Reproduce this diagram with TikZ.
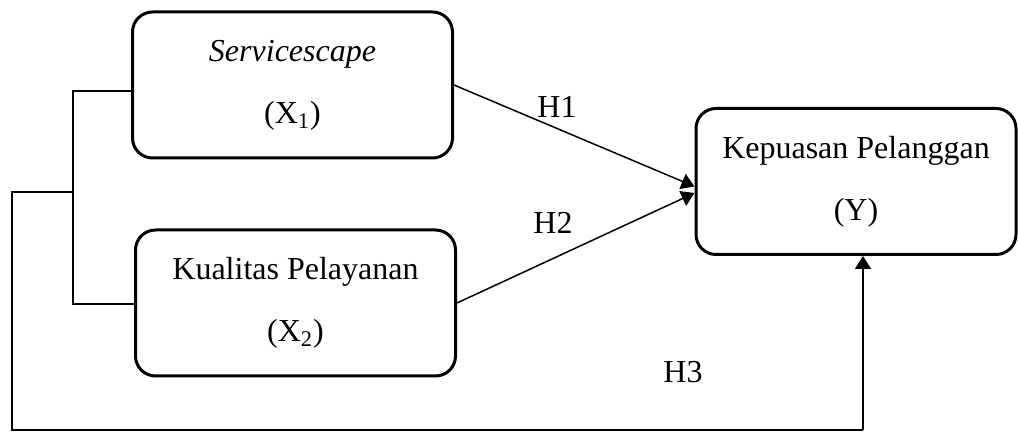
\documentclass[tikz,border=0pt]{standalone}
\usepackage{fontspec}
\setmainfont{Liberation Serif}
\usetikzlibrary{arrows.meta, positioning, calc}
\tikzset{
  varbox/.style={draw, line width=1.5pt, rounded corners=10pt,
                 minimum width=160pt, minimum height=73pt, align=center,
                 font=\fontsize{16}{31}\selectfont},
  hypo/.style={font=\fontsize{16}{19}\selectfont},
  link/.style={line width=0.75pt},
  arr/.style={link, -{Triangle[length=6.5pt, width=8pt]}}
}

\begin{document}
\begin{tikzpicture}[x=0.5pt, y=-0.5pt]
  \useasboundingbox (0,0) rectangle (1018,432);

  % Variables
  \node[varbox] (x1) at (292.5,85) {\textit{Servicescape}\\(X\textsubscript{1})};
  \node[varbox] (x2) at (295.5,303) {Kualitas Pelayanan\\(X\textsubscript{2})};
  \node[varbox] (kp) at (856,181.5) {Kepuasan Pelanggan\\(Y)};

  % Hypotheses
  \draw[arr] (x1.east) -- ($(kp.west)+(0,5)$);
  \draw[arr] (x2.east) -- ($(kp.west)+(0,11.5)$);
  \node[hypo] (h1) at (557,107) {H1};
  \node[hypo] (h2) at (553,223) {H2};
  \node[hypo] (h3) at (683,372) {H3};

  % Joint path (X1 and X2 together)
  \coordinate (jt) at (73,91);
  \coordinate (jb) at (73,304);
  \coordinate (jm) at (73,192);
  \coordinate (lt) at (12,192);
  \coordinate (lb) at (12,430);
  \coordinate (rb) at (863,430);
  \draw[link] (x1.west |- jt) -- (jt) -- (jb) -- (x2.west |- jb);
  \draw[link] (jm) -- (lt) -- (lb) -- (rb);
  \draw[arr] (rb) -- (rb |- kp.south);
\end{tikzpicture}
\end{document}
